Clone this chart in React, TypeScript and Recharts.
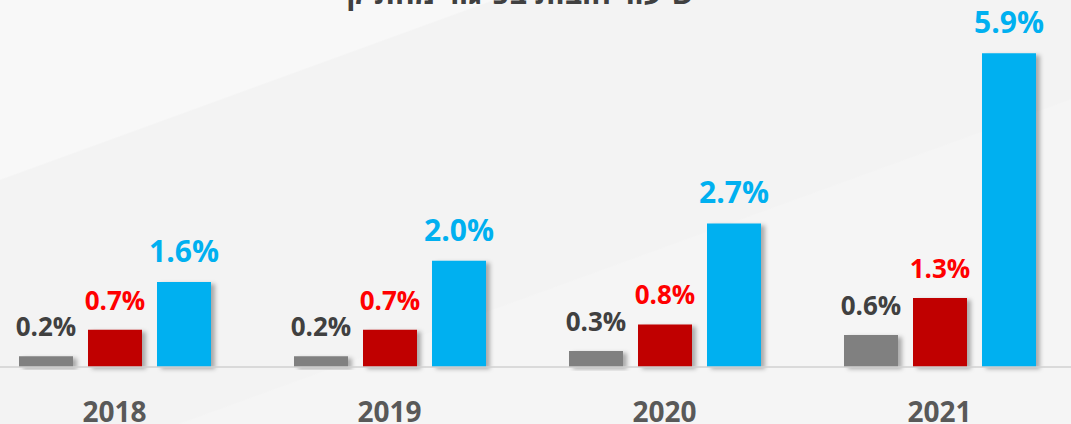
import React from "react";
import { BarChart, Bar, XAxis, YAxis, LabelList } from "recharts";

const years = ["2018", "2019", "2020", "2021"];
const seriesGray = [0.2, 0.2, 0.3, 0.6];
const seriesRed = [0.7, 0.7, 0.8, 1.3];
const seriesBlue = [1.6, 2.0, 2.7, 5.9];
const title = "שיעור חובות בפיגור מהתיק";

const data = years.map((y, i) => ({
  year: y,
  gray: seriesGray[i],
  red: seriesRed[i],
  blue: seriesBlue[i],
}));

const fmt = (v: number) => `${v.toFixed(1)}%`;
const FONT = "'Open Sans', 'DejaVu Sans', sans-serif";

export default function App() {
  return (
    <div
      style={{
        position: "fixed",
        left: 0,
        top: 0,
        width: 1071,
        height: 424,
        overflow: "hidden",
        background:
          "linear-gradient(160deg, #f8f8f8 0%, #f8f8f8 22%, #f3f3f3 22.2%, #f3f3f3 60%, #f5f5f5 60.2%, #f5f5f5 100%)",
        fontFamily: FONT,
      }}
    >
      <div
        style={{
          position: "absolute",
          left: 0,
          width: 1071,
          top: -27,
          textAlign: "center",
          direction: "rtl",
          fontSize: 30,
          fontWeight: 700,
          color: "#404040",
          lineHeight: "40px",
          paddingLeft: 0,
          paddingRight: 30,
          boxSizing: "border-box",
        }}
      >
        {title}
      </div>
      <div style={{ position: "absolute", left: -23, top: 0 }}>
        <BarChart
          width={1100}
          height={424}
          data={data}
          margin={{ top: 48, right: 0, left: 0, bottom: 0 }}
          barSize={54}
          barGap={15}
        >
          <defs>
            <filter id="shadow" x="-20%" y="-20%" width="160%" height="140%">
              <feDropShadow dx="4" dy="2" stdDeviation="2" floodColor="#000" floodOpacity="0.3" />
            </filter>
          </defs>
          <XAxis
            dataKey="year"
            height={57}
            axisLine={{ stroke: "#d0d0d0", strokeWidth: 1.5 }}
            tickLine={false}
            tickSize={0}
            tickMargin={35}
            tick={{ fill: "#595959", fontSize: 28, fontWeight: 700, fontFamily: FONT }}
          />
          <YAxis hide domain={[0, 6]} />
          <Bar dataKey="gray" fill="#808080" isAnimationActive={false} style={{ filter: "url(#shadow)" }}>
            <LabelList
              dataKey="gray"
              position="top"
              offset={20}
              formatter={(v: any) => fmt(Number(v))}
              style={{ fill: "#404040", fontSize: 26, fontWeight: 700, fontFamily: FONT }}
            />
          </Bar>
          <Bar dataKey="red" fill="#C00000" isAnimationActive={false} style={{ filter: "url(#shadow)" }}>
            <LabelList
              dataKey="red"
              position="top"
              offset={20}
              formatter={(v: any) => fmt(Number(v))}
              style={{ fill: "#FF0000", fontSize: 26, fontWeight: 700, fontFamily: FONT }}
            />
          </Bar>
          <Bar dataKey="blue" fill="#00B0F0" isAnimationActive={false} style={{ filter: "url(#shadow)" }}>
            <LabelList
              dataKey="blue"
              position="top"
              offset={20}
              formatter={(v: any) => fmt(Number(v))}
              style={{ fill: "#00B0F0", fontSize: 30, fontWeight: 700, fontFamily: FONT }}
            />
          </Bar>
        </BarChart>
      </div>
    </div>
  );
}
